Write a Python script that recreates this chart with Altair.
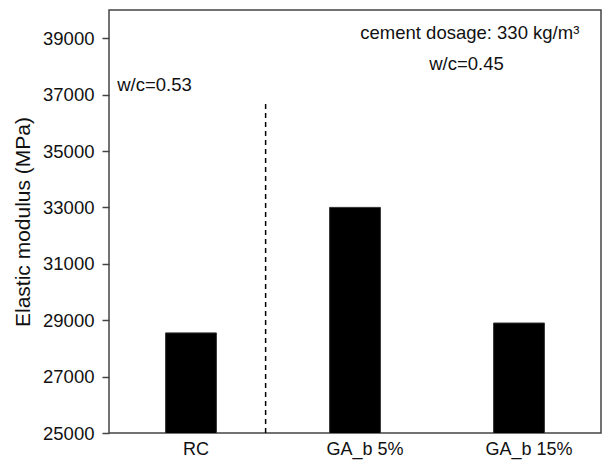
import altair as alt
import pandas as pd

# Elastic modulus per mix
categories = ["RC", "GA_b 5%", "GA_b 15%"]
modulus = [28550, 33000, 28900]

y_ticks = [25000, 27000, 29000, 31000, 33000, 35000, 37000, 39000]
y_domain = [25000, 40000]

# Annotation layer uses a 0..3 positional scale (one unit per mix)
note_text = ["w/c=0.53", "cement dosage: 330 kg/m³", "w/c=0.45"]
note_pos = [0.05, 2.2, 2.18]
note_val = [37330, 39200, 38100]
note_align = ["left", "center", "center"]

# Dashed separator between the two w/c groups
sep_pos = [0.955]
sep_bottom = [25000]
sep_top = [36800]

FONT = "Liberation Sans"

bars_df = pd.DataFrame({"mix": categories, "modulus": modulus})
notes_df = pd.DataFrame({"text": note_text, "pos": note_pos, "val": note_val, "align": note_align})
sep_df = pd.DataFrame({"pos": sep_pos, "y0": sep_bottom, "y1": sep_top})

y_scale = alt.Scale(domain=y_domain, nice=False, zero=False)

bars = alt.Chart(bars_df).mark_bar(color="black", stroke="#333", strokeWidth=1, clip=True).encode(
    x=alt.X(
        "mix:N",
        sort=categories,
        scale=alt.Scale(paddingInner=0.69, paddingOuter=0.345),
        axis=alt.Axis(
            title=None, labelAngle=0, ticks=False, domain=False,
            labelFontSize=18, labelFont=FONT, labelColor="#111", labelPadding=7,
            labelOffset={"condition": {"test": "datum.value === 'RC'", "value": 5}, "value": 10},
        ),
    ),
    y=alt.Y(
        "modulus:Q",
        scale=y_scale,
        axis=alt.Axis(
            title="Elastic modulus (MPa)", values=y_ticks, format="d",
            titleFontSize=21, titleFont=FONT, titleFontWeight="normal", titleColor="#111",
            titlePadding=9,
            labelFontSize=18.5, labelFont=FONT, labelColor="#111", labelPadding=8,
            tickSize=7, tickColor="#444", tickWidth=1.5,
            domain=False, grid=False,
        ),
    ),
)

x_note = alt.Scale(domain=[0, 3], nice=False, zero=False)

sep = alt.Chart(sep_df).mark_rule(color="black", strokeDash=[5, 4], strokeWidth=1.5).encode(
    x=alt.X("pos:Q", scale=x_note, axis=None),
    y=alt.Y("y0:Q", scale=y_scale),
    y2="y1:Q",
)

notes_left = alt.Chart(notes_df[notes_df["align"] == "left"]).mark_text(
    align="left", baseline="middle", fontSize=18.5, font=FONT, color="#111"
).encode(
    x=alt.X("pos:Q", scale=x_note, axis=None),
    y=alt.Y("val:Q", scale=y_scale),
    text="text:N",
)

notes_center = alt.Chart(notes_df[notes_df["align"] == "center"]).mark_text(
    align="center", baseline="middle", fontSize=18.5, font=FONT, color="#111"
).encode(
    x=alt.X("pos:Q", scale=x_note, axis=None),
    y=alt.Y("val:Q", scale=y_scale),
    text="text:N",
)

chart = (
    alt.layer(bars, sep, notes_left, notes_center)
    .resolve_scale(x="independent")
    .properties(
        width=492,
        height=423,
        autosize=alt.AutoSizeParams(type="none"),
        padding={"left": 109, "top": 10, "right": 7, "bottom": 27},
        background="white",
    )
    .configure_view(stroke="#444", strokeWidth=1.5)
)

chart.save("out.html", embed_options={"renderer": "svg", "actions": False})
